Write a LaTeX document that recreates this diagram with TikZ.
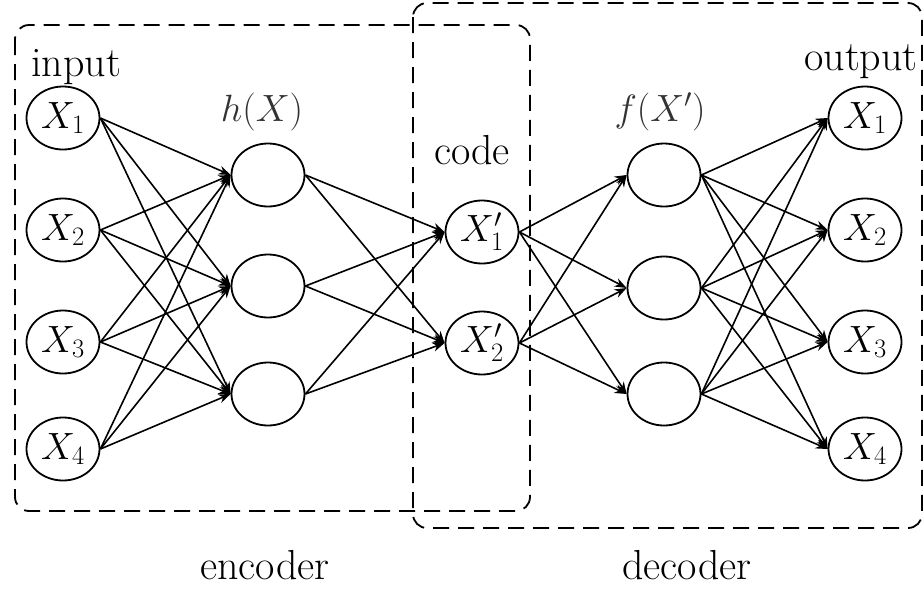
\RequirePackage{fix-cm}
\documentclass[tikz,border=0pt]{standalone}
\usetikzlibrary{shapes.geometric,arrows.meta}
\begin{document}
\begin{tikzpicture}[x=1pt,y=-1pt,
  neuron/.style={ellipse,draw,line width=1.8pt,minimum width=73pt,minimum height=63pt,inner sep=0pt,font=\fontsize{38}{44}\selectfont},
  conn/.style={line width=1.6pt,-{Stealth[length=12pt,width=9pt]}},
  lbl/.style={font=\fontsize{42}{48}\selectfont,inner sep=0pt},
  mlbl/.style={font=\fontsize{38}{44}\selectfont,inner sep=0pt,text=black!80},
  box/.style={draw,line width=1.8pt,dash pattern=on 16pt off 9pt,rounded corners=14pt}]
\useasboundingbox (0,0) rectangle (924,590);
% boxes
\draw[box] (15,25) rectangle (530,511);
\draw[box] (413,3) rectangle (922,528);
% input layer
\node[neuron] (i1) at (63,118) {$X_1$};
\node[neuron] (i2) at (63,230) {$X_2$};
\node[neuron] (i3) at (63,342) {$X_3$};
\node[neuron] (i4) at (63,449) {$X_4$};
% hidden encoder
\node[neuron] (h1) at (268,175) {};
\node[neuron] (h2) at (268,286) {};
\node[neuron] (h3) at (268,394) {};
% code
\node[neuron] (c1) at (482,232) {$X'_1$};
\node[neuron] (c2) at (482,343) {$X'_2$};
% hidden decoder
\node[neuron] (f1) at (664,175) {};
\node[neuron] (f2) at (664,288) {};
\node[neuron] (f3) at (664,394) {};
% output
\node[neuron] (o1) at (865,118) {$X_1$};
\node[neuron] (o2) at (865,230) {$X_2$};
\node[neuron] (o3) at (865,342) {$X_3$};
\node[neuron] (o4) at (865,449) {$X_4$};
% labels
\node[lbl,anchor=base] (tin) at (76,76) {input};
\node[mlbl] (th) at (262,112) {$h(X)$};
\node[lbl,anchor=base] (tc) at (472,164) {code};
\node[mlbl] (tf) at (660,112) {$f(X')$};
\node[lbl,anchor=base] (tout) at (861,70) {output};
\node[lbl,anchor=base] (tenc) at (265,579) {encoder};
\node[lbl,anchor=base] (tdec) at (687,579) {decoder};
% connections
\foreach \a in {1,...,4}{\foreach \b in {1,2,3}{\draw[conn] (i\a.east) -- (h\b.west);}}
\foreach \a in {1,2,3}{\foreach \b in {1,2}{\draw[conn] (h\a.east) -- (c\b.west);}}
\foreach \a in {1,2}{\foreach \b in {1,2,3}{\draw[conn] (c\a.east) -- (f\b.west);}}
\foreach \a in {1,2,3}{\foreach \b in {1,...,4}{\draw[conn] (f\a.east) -- (o\b.west);}}
\end{tikzpicture}
\end{document}
